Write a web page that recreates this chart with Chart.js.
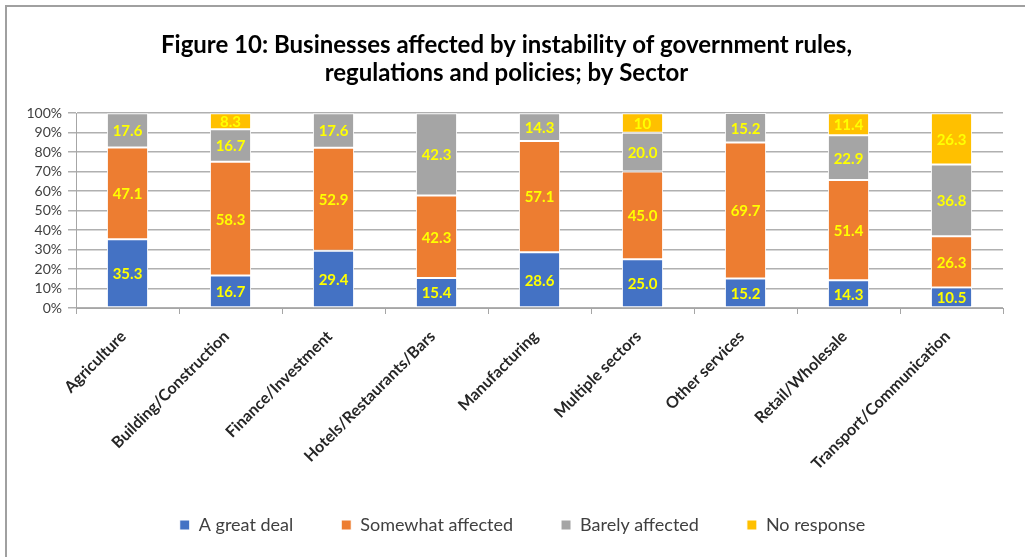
<!DOCTYPE html>
<html>
<head>
<meta charset="utf-8">
<script src="https://cdn.jsdelivr.net/npm/chart.js@4.4.1/dist/chart.umd.min.js"></script>
<style>
    body { margin: 0; background: #fff; }
    #wrap { position: relative; width: 1025px; height: 557px; overflow: hidden; }
    /* moldura cinza do gráfico */
    #frame { position: absolute; left: 5px; top: 5px; width: 1100px; height: 600px; border: 2px solid #a0a0a0; box-sizing: border-box; }
    canvas { position: absolute; left: 0; top: 0; }
</style>
</head>
<body>
<div id="wrap">
    <div id="frame"></div>
    <canvas id="chart" width="1025" height="557"></canvas>
</div>
<script>
// Setores (eixo X)
const sectors = [
    'Agriculture', 'Building/Construction', 'Finance/Investment', 'Hotels/Restaurants/Bars',
    'Manufacturing', 'Multiple sectors', 'Other services', 'Retail/Wholesale', 'Transport/Communication'
];

// Percentuais por categoria de resposta
const greatDeal    = [35.3, 16.7, 29.4, 15.4, 28.6, 25.0, 15.2, 14.3, 10.5];
const somewhat     = [47.1, 58.3, 52.9, 42.3, 57.1, 45.0, 69.7, 51.4, 26.3];
const barely       = [17.6, 16.7, 17.6, 42.3, 14.3, 20.0, 15.2, 22.9, 36.8];
const noResponse   = [0, 8.3, 0, 0, 0, 10, 0, 11.4, 26.3];

// Rótulos do eixo Y
const yTicks = [0, 10, 20, 30, 40, 50, 60, 70, 80, 90, 100];

const FONT = 'Lato, "Open Sans", sans-serif';

// Plugin simples para escrever o valor no meio de cada segmento
const segmentLabels = {
    id: 'segmentLabels',
    afterDatasetsDraw(chart) {
        const ctx = chart.ctx;
        ctx.save();
        ctx.font = 'bold 15px ' + FONT;
        ctx.fillStyle = '#ffff00';
        ctx.textAlign = 'center';
        ctx.textBaseline = 'middle';
        chart.data.datasets.forEach((ds, i) => {
            const meta = chart.getDatasetMeta(i);
            meta.data.forEach((bar, j) => {
                const v = ds.data[j];
                if (!v) return;
                // "10" aparece sem casa decimal na série sem resposta
                const txt = (ds.label === 'No response' && Number.isInteger(v)) ? String(v) : v.toFixed(1);
                const y = (bar.y + bar.base) / 2;
                ctx.fillText(txt, bar.x, y + 1);
            });
        });
        ctx.restore();
    }
};

// O padding da legenda vale nas duas direções; a caixa é limitada em altura
// e aqui ela é esticada para cima (a legenda recorta o desenho na própria caixa)
const legendShift = {
    id: 'legendShift',
    afterLayout(chart) {
        const lg = chart.legend;
        lg.left += 16;
        lg.right += 16;
        lg.top -= 56;
    }
};

const mk = (label, data, color) => ({
    label: label,
    data: data,
    backgroundColor: color,
    borderColor: '#ffffff',
    borderWidth: 1,
    borderSkipped: false,
    barPercentage: 0.4,
    categoryPercentage: 1.0
});

new Chart(document.getElementById('chart'), {
    type: 'bar',
    data: {
        labels: sectors,
        datasets: [
            mk('A great deal', greatDeal, '#4472c4'),
            mk('Somewhat affected', somewhat, '#ed7d31'),
            mk('Barely affected', barely, '#a5a5a5'),
            mk('No response', noResponse, '#ffc000')
        ]
    },
    options: {
        responsive: false,
        animation: false,
        layout: { padding: { left: 10, right: 22, top: 0, bottom: 13 } },
        plugins: {
            title: {
                display: true,
                text: ['Figure 10: Businesses affected by instability of government rules,',
                       'regulations and policies; by Sector'],
                font: { family: FONT, size: 24, weight: 'bold', lineHeight: 1.17 },
                color: '#000',
                padding: { top: 31, bottom: 26 }
            },
            legend: {
                position: 'bottom',
                maxHeight: 20,
                labels: {
                    font: { family: FONT, size: 18 },
                    color: '#404040',
                    boxWidth: 10,
                    boxHeight: 10,
                    padding: 48
                }
            },
            tooltip: { enabled: false }
        },
        scales: {
            x: {
                stacked: true,
                grid: { drawOnChartArea: false, tickLength: 6, color: '#a6a6a6' },
                border: { color: '#a6a6a6' },
                ticks: {
                    font: { family: FONT, size: 16, weight: 'bold' },
                    color: '#262626',
                    minRotation: 45,
                    maxRotation: 45,
                    padding: 13,
                    labelOffset: -4
                },
                afterFit(scale) { scale.height = 216; }
            },
            y: {
                stacked: true,
                min: 0,
                max: 100,
                afterBuildTicks(scale) { scale.ticks = yTicks.map(v => ({ value: v })); },
                grid: { color: '#b0b0b0', tickLength: 8, lineWidth: 1.5 },
                border: { color: '#a6a6a6' },
                ticks: {
                    autoSkip: false,
                    font: { family: FONT, size: 14 },
                    color: '#404040',
                    padding: 6,
                    callback: v => v + '%'
                },
                afterFit(scale) { scale.width = 66; }
            }
        }
    },
    plugins: [segmentLabels, legendShift]
});
</script>
</body>
</html>
